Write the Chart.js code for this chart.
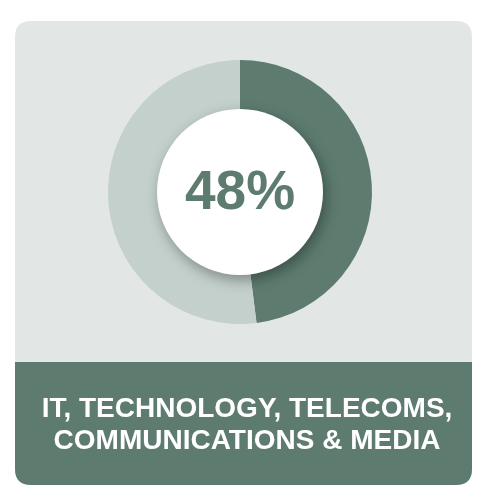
<!DOCTYPE html>
<html>
<head>
<meta charset="utf-8">
<script src="https://cdn.jsdelivr.net/npm/chart.js@4"></script>
<style>
  html, body { margin: 0; padding: 0; background: #ffffff; }
  #wrap { width: 492px; height: 493px; }
</style>
</head>
<body>
<div id="wrap"><canvas id="myChart" width="492" height="493"></canvas></div>
<script>
const labels = ['IT, Technology, Telecoms, Communications & Media', 'Other sectors'];
const values = [48, 52];
const colors = ['#5d7c6f', '#c3d0cb'];
const headline = '48%';
const captionLines = ['IT, TECHNOLOGY, TELECOMS,', 'COMMUNICATIONS & MEDIA'];

const green = '#5d7c6f';

function roundRect(c, x, y, w, h, r) {
  c.beginPath();
  c.moveTo(x + r, y);
  c.lineTo(x + w - r, y);
  c.quadraticCurveTo(x + w, y, x + w, y + r);
  c.lineTo(x + w, y + h - r);
  c.quadraticCurveTo(x + w, y + h, x + w - r, y + h);
  c.lineTo(x + r, y + h);
  c.quadraticCurveTo(x, y + h, x, y + h - r);
  c.lineTo(x, y + r);
  c.quadraticCurveTo(x, y, x + r, y);
  c.closePath();
}

// card background + bottom band with caption
const cardPlugin = {
  id: 'card',
  beforeDraw(chart) {
    const c = chart.ctx;
    c.save();
    roundRect(c, 15, 21, 457, 464, 16);
    c.fillStyle = '#e2e7e5';
    c.fill();
    c.clip();
    c.fillStyle = green;
    c.fillRect(15, 362, 457, 125);
    c.restore();

    c.save();
    c.fillStyle = '#ffffff';
    c.font = 'bold 28px "Liberation Sans", Arial, sans-serif';
    c.textAlign = 'center';
    c.textBaseline = 'alphabetic';
    c.fillText(captionLines[0], 247, 417);
    c.fillText(captionLines[1], 247, 449);
    c.restore();
  },
  afterDatasetsDraw(chart) {
    const c = chart.ctx;
    const meta = chart.getDatasetMeta(0).data[0];
    const cx = meta.x, cy = meta.y;
    c.save();
    c.shadowColor = 'rgba(0,0,0,0.35)';
    c.shadowBlur = 14;
    c.shadowOffsetX = 3;
    c.shadowOffsetY = 5;
    c.beginPath();
    c.arc(cx, cy, 83, 0, Math.PI * 2);
    c.fillStyle = '#ffffff';
    c.fill();
    c.restore();

    c.save();
    c.fillStyle = green;
    c.font = 'bold 55px "Liberation Sans", Arial, sans-serif';
    c.textAlign = 'center';
    c.textBaseline = 'alphabetic';
    c.fillText(headline, cx, 209);
    c.restore();
  }
};

const ctx = document.getElementById('myChart').getContext('2d');
const myChart = new Chart(ctx, {
  type: 'doughnut',
  data: {
    labels: labels,
    datasets: [
      {
        data: values,
        backgroundColor: colors,
        borderWidth: 0,
      },
    ],
  },
  options: {
    responsive: false,
    animation: false,
    cutout: '60%',
    layout: {
      padding: { left: 108, right: 120, top: 60, bottom: 169 },
    },
    plugins: {
      legend: { display: false },
      tooltip: { enabled: false },
    },
  },
  plugins: [cardPlugin],
});
</script>
</body>
</html>
